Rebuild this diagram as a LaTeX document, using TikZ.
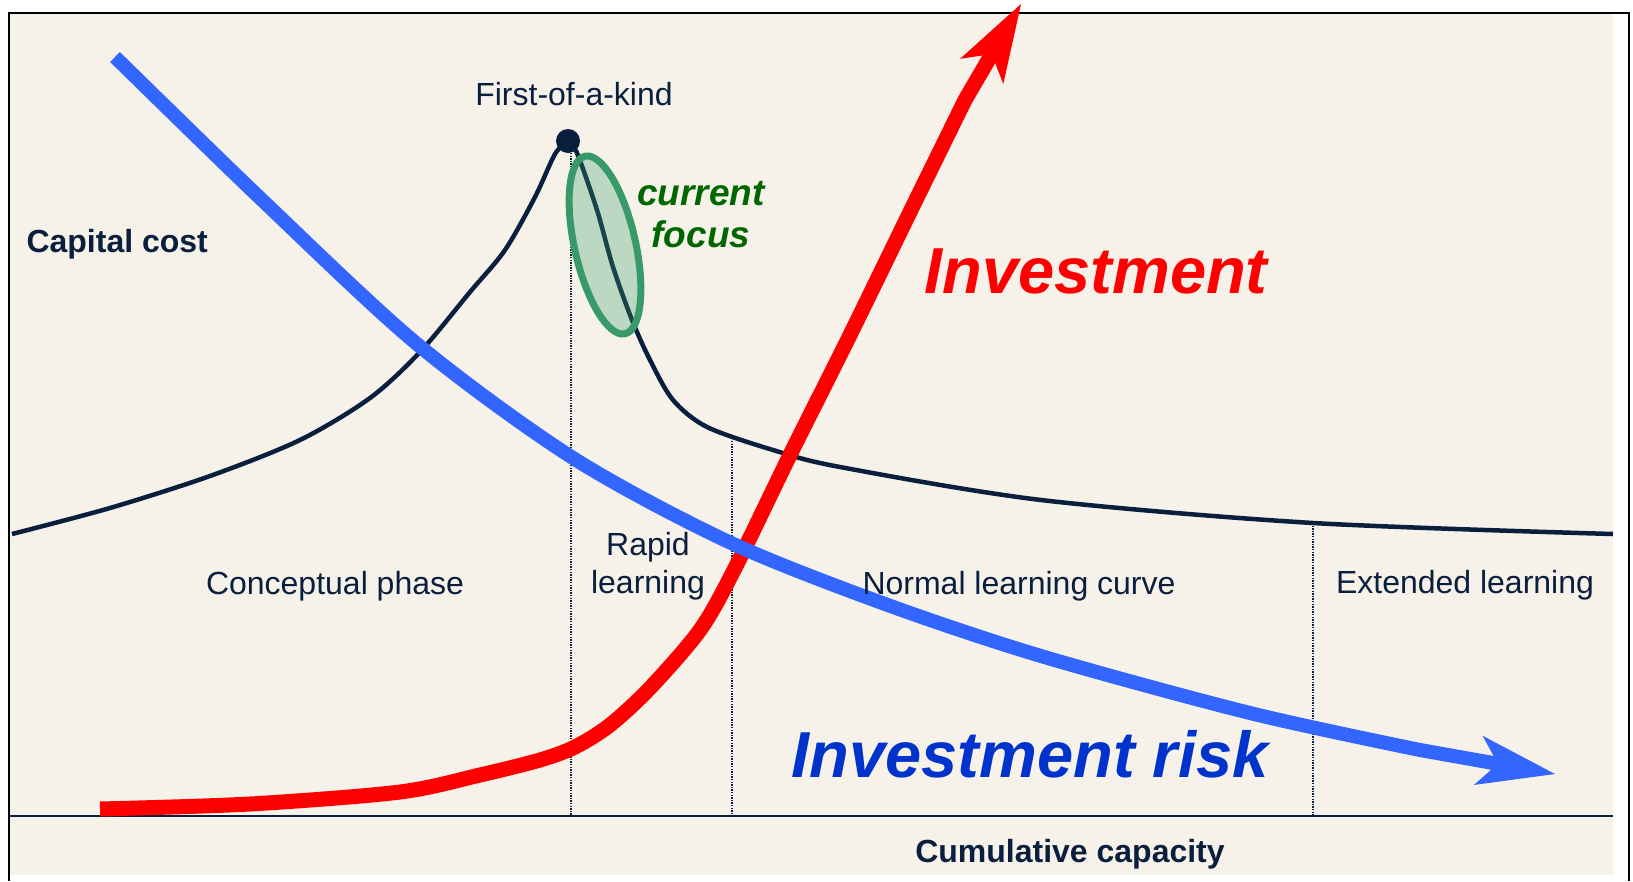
\documentclass[tikz,border=0pt]{standalone}
\usepackage{fontspec}
\setmainfont{Liberation Sans}
\usetikzlibrary{arrows.meta,shapes.geometric}
\definecolor{navy}{RGB}{10,31,61}
\definecolor{paper}{RGB}{246,242,233}
\definecolor{riskblue}{RGB}{51,102,255}
\definecolor{risktext}{RGB}{0,51,204}
\definecolor{focusgreen}{RGB}{56,154,104}
\definecolor{focustext}{RGB}{0,102,0}
\def\Frame{(9,881) -- (9,13) -- (1629,13) -- (1629,881)}
\def\CostRise{plot[smooth] coordinates {(12,534) (110,508) (210,476) (300,440) (370,398) (420,352) (470,292) (505,250) (535,197) (555,154) (568,141)}}
\def\CostFall{plot[smooth] coordinates {(568,141) (577,153) (597,210) (613,267) (632,320) (650,360) (673,400) (707,427) (773,450) (840,467) (1041,500) (1313,523) (1613,534)}}
\def\InvestPath{plot[smooth] coordinates {(100,809) (250,804) (400,792) (480,775) (540,760) (575,747) (610,725) (650,688) (700,630) (734,570) (790,455) (850,335) (910,212) (965,100)}}
\def\RiskPath{plot[smooth] coordinates {(115,57) (260,198) (417,344) (573,458) (729,542) (885,604) (1041,656) (1250,713) (1420,750)}}
\tikzset{
  phase/.style={font=\fontsize{32}{38}\selectfont,text=navy,anchor=base,align=center},
  axislabel/.style={font=\bfseries\fontsize{32}{38}\selectfont,text=navy,anchor=base},
  bigword/.style={font=\bfseries\itshape\fontsize{65}{78}\selectfont,anchor=base},
  divider/.style={navy,line width=1.3pt,dash pattern=on 1.3pt off 1.3pt},
  bigtip/.style={-{Stealth[length=78pt,width=50pt,inset=20pt,line width=0pt]}}
}
\begin{document}
\begin{tikzpicture}[x=1pt,y=-1pt]
  \useasboundingbox (0,0) rectangle (1633,881);
  \begin{scope}
    \fill[paper] (10,14) rectangle (1613,875);
    \draw[line width=2.3pt] \Frame;
    \draw[navy,line width=2pt] (10,816) -- (1613,816);
    \node[axislabel] (cumulative) at (1070,862) {Cumulative capacity};
    \node[axislabel,anchor=base west] (capital) at (23,252) {Capital cost};
    % phase borders
    \draw[divider] (571,153) -- (571,816);
    \draw[divider] (732,441) -- (732,816);
    \draw[divider] (1313,523) -- (1313,816);
    \draw[navy,line width=4.5pt] \CostRise;
    \draw[navy,line width=4.5pt] \CostFall;
    \draw[red,line width=15pt,bigtip] \InvestPath -- (1021,4);
    \draw[riskblue,line width=14pt,bigtip] \RiskPath -- (1555,774);
    \node[ellipse,draw=focusgreen,line width=7pt,fill=focusgreen,fill opacity=.3,
      rotate=12.7,minimum width=61pt,minimum height=182pt] (focus) at (605,245) {};
    \node[circle,fill=navy,inner sep=0pt,minimum size=24pt] (foak) at (568,141) {};
    \node[phase] (foaklabel) at (574,105) {First-of-a-kind};
    \node[font=\bfseries\itshape\fontsize{37}{42}\selectfont,text=focustext,anchor=base,align=center] (focuslabel) at (701,247) {current\\focus};
    \node[bigword,text=red] (investlabel) at (1096,293) {Investment};
    \node[bigword,text=risktext] (risklabel) at (1030,777) {Investment risk};
    \node[phase] (conceptual) at (335,594) {Conceptual phase};
    \node[phase] (rapid) at (648,593) {Rapid\\learning};
    \node[phase] (normal) at (1019,594) {Normal learning curve};
    \node[phase] (extended) at (1465,593) {Extended learning};
  \end{scope}
\end{tikzpicture}
\end{document}
